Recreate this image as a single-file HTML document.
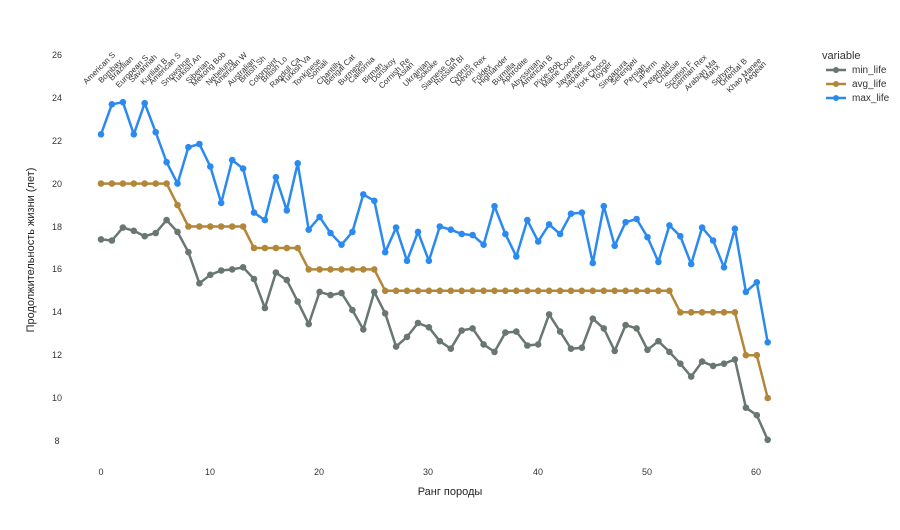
<!DOCTYPE html>
<html><head><meta charset="utf-8"><style>
html,body{margin:0;padding:0;background:#fff;}
svg text{font-family:"Liberation Sans",sans-serif;}
</style></head><body>
<svg id="s" width="900" height="525" xmlns="http://www.w3.org/2000/svg">
<g font-size="9" fill="#333" text-anchor="middle">
<text x="57" y="58">26</text><text x="57" y="101">24</text><text x="57" y="144">22</text><text x="57" y="187">20</text><text x="57" y="230">18</text><text x="57" y="272">16</text><text x="57" y="315">14</text><text x="57" y="358">12</text><text x="57" y="401">10</text><text x="57" y="444">8</text>
<text x="101" y="475">0</text><text x="210" y="475">10</text><text x="319" y="475">20</text><text x="428" y="475">30</text><text x="538" y="475">40</text><text x="647" y="475">50</text><text x="756" y="475">60</text>
</g>
<text x="450" y="495" font-size="11" fill="#222" text-anchor="middle">Ранг породы</text>
<text transform="translate(34,250) rotate(-90)" font-size="11" fill="#222" text-anchor="middle">Продолжительность жизни (лет)</text>
<g font-size="11" fill="#333">
<text x="822" y="59">variable</text>
<text x="852" y="73" font-size="10">min_life</text>
<text x="852" y="87" font-size="10">avg_life</text>
<text x="852" y="101" font-size="10">max_life</text>
</g>
<g stroke-width="2.5">
<line x1="826" y1="70" x2="846" y2="70" stroke="#68776f"/><circle cx="836" cy="70" r="3" fill="#68776f"/>
<line x1="826" y1="84" x2="846" y2="84" stroke="#b3873a"/><circle cx="836" cy="84" r="3" fill="#b3873a"/>
<line x1="826" y1="98" x2="846" y2="98" stroke="#2b8af0"/><circle cx="836" cy="98" r="3" fill="#2b8af0"/>
</g>
<g id="d"></g>
</svg>
<script>
var mx=[22.3,23.7,23.8,22.3,23.75,22.4,21.0,20.0,21.7,21.85,20.8,19.1,21.1,20.7,18.65,18.3,20.3,18.75,20.95,17.85,18.45,17.7,17.15,17.75,19.5,19.2,16.8,17.95,16.4,17.75,16.4,18.0,17.85,17.65,17.6,17.15,18.95,17.65,16.6,18.3,17.3,18.1,17.65,18.6,18.65,16.3,18.95,17.1,18.2,18.35,17.5,16.35,18.05,17.55,16.25,17.95,17.35,16.1,17.9,14.95,15.4,12.6];
var mn=[17.4,17.35,17.95,17.8,17.55,17.7,18.3,17.75,16.8,15.35,15.75,15.95,16.0,16.1,15.55,14.2,15.85,15.5,14.5,13.45,14.95,14.8,14.9,14.1,13.2,14.95,13.95,12.4,12.85,13.5,13.3,12.65,12.3,13.15,13.25,12.5,12.15,13.05,13.1,12.45,12.5,13.9,13.1,12.3,12.35,13.7,13.25,12.2,13.4,13.25,12.25,12.65,12.15,11.6,11.0,11.7,11.5,11.6,11.8,9.55,9.2,8.05];
var av=[];for(var i=0;i<62;i++){av.push(i<7?20:i<8?19:i<14?18:i<19?17:i<26?16:i<53?15:i<59?14:i<61?12:10);}
var names=["American S","Bombay","Brazilian","European S","Savannah","Kurilian B","American S","Snowshoe","Turkish An","Siberian","Mekong Bob","Nebelung","American W","Australian","British Sh","Colorpoint","British Lo","Ragdoll Ca","Turkish Va","Tonkinese","Somali","Chantilly","Bengal Cat","Burmese","California","Birman","Donskoy","Cornish Re","Asian","Ukrainian","Sokoke","Siamese Ca","Russian Bl","Cyprus","Devon Rex","Foldex","Highlander","Burmilla","Aphrodite","Abyssinian","American B","Pixie-Bob","Maine Coon","Javanese","Japanese B","York Choco","Toyger","Singapura","Serengeti","Persian","LaPerm","Peterbald","Chausie","Scottish F","German Rex","Arabian Ma","Manx","Sphynx","Oriental B","Khao Manee","Aegean","Aegean"];
function X(i){return 101+i*10.93;}function Y(v){return 55+(26-v)*21.44;}
var h='';
[[mn,'#68776f'],[av,'#b3873a'],[mx,'#2b8af0']].forEach(function(s){
var p=s[0].map(function(v,i){return X(i).toFixed(1)+','+Y(v).toFixed(1);}).join(' ');
h+='<polyline points="'+p+'" fill="none" stroke="'+s[1]+'" stroke-width="2.5" stroke-linejoin="round"/>';
s[0].forEach(function(v,i){h+='<circle cx="'+X(i).toFixed(1)+'" cy="'+Y(v).toFixed(1)+'" r="3.3" fill="'+s[1]+'"/>';});
});
names.slice(0,61).forEach(function(n,i){var x=X(i),y=71+i*0.07+(i%2?2:-1);
h+='<text transform="translate('+x.toFixed(1)+','+y.toFixed(1)+') rotate(-45)" font-size="8" fill="#333" text-anchor="middle">'+n+'</text>';});
document.getElementById('d').innerHTML=h;
</script>
</body></html>
